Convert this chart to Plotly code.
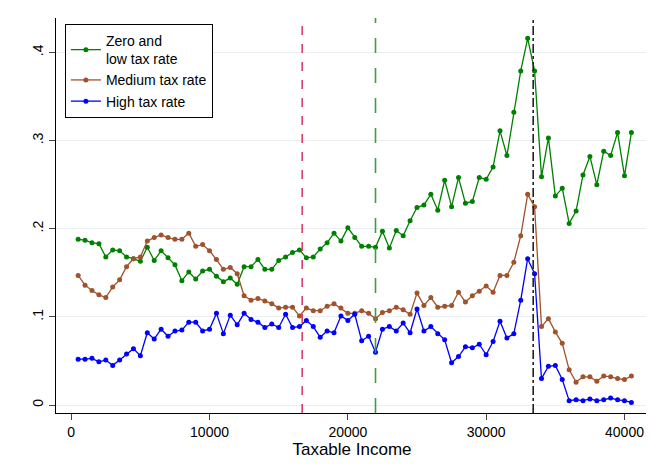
import plotly.graph_objects as go

income = list(range(500, 41000, 500))

zero_low = [.188, .187, .184, .183, .168, .176, .175, .168, .166, .163,
            .179, .164, .175, .167, .159, .141, .151, .143, .152, .154,
            .146, .140, .144, .137, .157, .157, .165, .154, .154, .164,
            .168, .173, .176, .167, .168, .177, .184, .195, .186, .201,
            .190, .180, .180, .179, .197, .178, .198, .192, .209, .224,
            .227, .239, .221, .255, .225, .258, .229, .231, .258, .256,
            .270, .311, .283, .332, .379, .416, .379, .259, .303, .237,
            .246, .206, .220, .261, .282, .250, .288, .283, .309, .260, .309]
medium = [.147, .136, .130, .125, .122, .134, .142, .157, .166, .168,
          .186, .190, .193, .190, .188, .188, .195, .180, .182, .175,
          .165, .154, .156, .149, .124, .119, .121, .118, .115, .110,
          .111, .111, .101, .110, .107, .107, .112, .115, .110, .104,
          .104, .107, .104, .098, .105, .107, .111, .108, .103, .127,
          .113, .122, .111, .112, .113, .128, .117, .124, .129, .135,
          .128, .147, .147, .162, .192, .239, .225, .089, .098, .083,
          .070, .040, .026, .032, .032, .027, .033, .032, .030, .029, .033]
high = [.052, .052, .053, .049, .051, .045, .051, .058, .064, .056,
        .082, .075, .086, .078, .084, .085, .094, .094, .084, .086,
        .104, .081, .102, .091, .104, .097, .094, .088, .092, .088,
        .103, .088, .089, .096, .089, .077, .084, .082, .101, .096,
        .103, .073, .078, .060, .086, .089, .084, .093, .082, .109,
        .084, .089, .081, .074, .048, .055, .066, .065, .069, .057,
        .072, .095, .076, .081, .119, .166, .149, .030, .044, .045,
        .029, .005, .006, .005, .007, .005, .006, .008, .006, .005, .003]

vlines = [(16700, "#d6406a", "dash"), (22000, "#3aa03a", "longdash"), (33400, "#222222", "dashdot")]

fig = go.Figure()
for name, ys, col in [("Zero and<br>low tax rate", zero_low, "#008000"),
                      ("Medium tax rate", medium, "#a0522d"),
                      ("High tax rate", high, "#0000ff")]:
    fig.add_trace(go.Scatter(x=income, y=ys, name=name, mode="lines+markers",
                             line=dict(color=col, width=1.3),
                             marker=dict(color=col, size=5)))

for xv, col, dash in vlines:
    fig.add_vline(x=xv, line=dict(color=col, dash=dash, width=1.6))

fig.update_layout(
    width=654, height=475,
    margin=dict(l=48, r=14, t=10, b=70),
    paper_bgcolor="white", plot_bgcolor="white",
    font=dict(family="Liberation Sans, Arial", size=14, color="black"),
    showlegend=True,
    legend=dict(x=0.015, y=0.985, xanchor="left", yanchor="top",
                bordercolor="black", borderwidth=1, bgcolor="white",
                font=dict(size=14)),
    xaxis=dict(range=[-1100, 41700], tickvals=[0, 10000, 20000, 30000, 40000],
               tickformat="d",
               showgrid=False, showline=True, linecolor="black", ticks="outside",
               ticklen=6, zeroline=False, title=dict(text="Taxable Income", standoff=0)),
    yaxis=dict(range=[-0.009, 0.439], tickvals=[0, .1, .2, .3, .4],
               ticktext=["0", ".1", ".2", ".3", ".4"], tickangle=-90,
               showgrid=True, gridcolor="#e8eef2", showline=True, linecolor="black",
               ticks="outside", ticklen=6, zeroline=False),
)
fig.write_html("out.html")
